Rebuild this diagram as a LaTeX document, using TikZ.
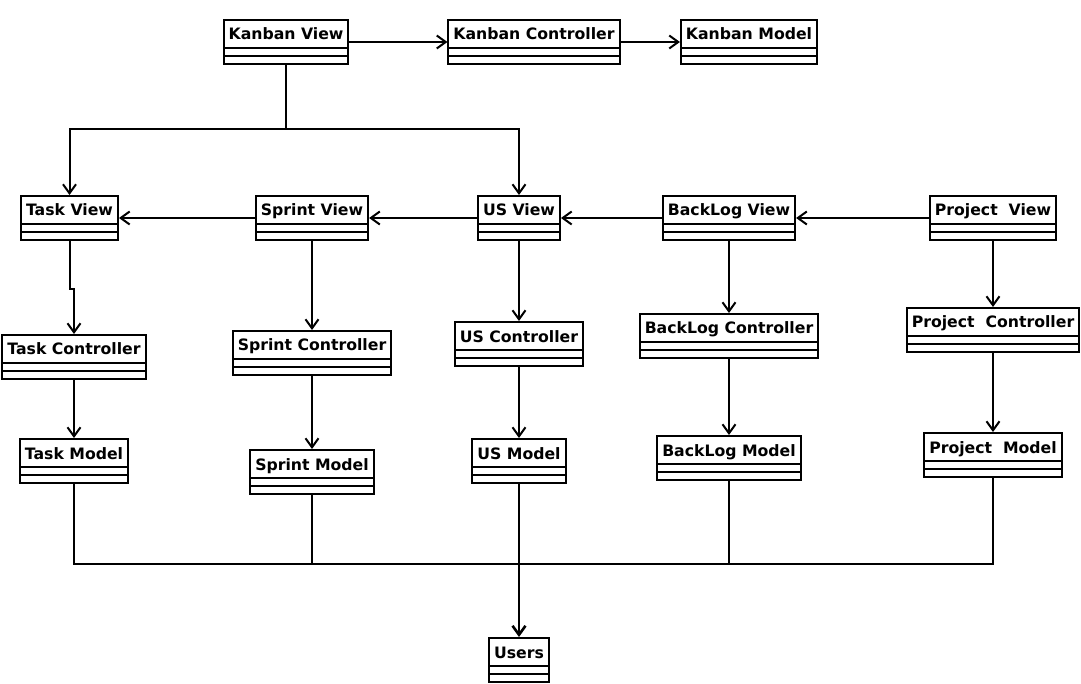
\documentclass[tikz,border=0pt]{standalone}
\usepackage{fontspec}
\setmainfont{DejaVu Sans}
\usetikzlibrary{positioning, arrows.meta}

\begin{document}
\begin{tikzpicture}[
  x=1pt, y=-1pt,
  font=\fontsize{15.7}{18}\selectfont\bfseries,
  cls/.style={draw, line width=2pt, anchor=north, fill=white,
    inner xsep=5pt, inner ysep=3pt, text height=17pt, text depth=21pt,
    path picture={
      \draw[line width=2pt] ([yshift=8pt]path picture bounding box.south west) -- ([yshift=8pt]path picture bounding box.south east)
        ([yshift=16pt]path picture bounding box.south west) -- ([yshift=16pt]path picture bounding box.south east);
    }},
  link/.style={line width=2pt},
  flow/.style={link, -{Straight Barb[length=9pt, width=13pt]}}
]
\useasboundingbox (0,0) rectangle (1081,684);
% kanban row
\node[cls] (kv) at (286,19) {Kanban View};
\node[cls] (kc) at (534,19) {Kanban Controller};
\node[cls] (km) at (749,19) {Kanban Model};
% views
\node[cls] (tv) at (69.5,195) {Task View};
\node[cls] (sv) at (312,195) {Sprint View};
\node[cls] (usv) at (519,195) {US View};
\node[cls] (blv) at (729,195) {BackLog View};
\node[cls] (pv) at (993,195) {Project~~View};
% controllers
\node[cls] (tc) at (74,334) {Task Controller};
\node[cls] (sc) at (312,330) {Sprint Controller};
\node[cls] (usc) at (519,321) {US Controller};
\node[cls] (blc) at (729,313) {BackLog Controller};
\node[cls] (pc) at (993,307) {Project~~Controller};
% models
\node[cls] (tm) at (74,438) {Task Model};
\node[cls] (sm) at (312,449) {Sprint Model};
\node[cls] (usm) at (519,438) {US Model};
\node[cls] (blm) at (729,435) {BackLog Model};
\node[cls] (pm) at (993,432) {Project~~Model};
\node[cls] (users) at (519,637) {Users};
\coordinate (split) at (286,129);
\coordinate (hub) at (519,564);
\draw[flow] (kv.east) -- (kc.west);
\draw[flow] (kc.east) -- (km.west);
\draw[link] (kv.south) -- (split);
\draw[flow] (split) -| (tv.north);
\draw[flow] (split) -| (usv.north);
\draw[flow] (pv.west) -- (blv.east);
\draw[flow] (blv.west) -- (usv.east);
\draw[flow] (usv.west) -- (sv.east);
\draw[flow] (sv.west) -- (tv.east);
\draw[flow] (tv.south) -- ++(0,48) -| (tc.north);
\draw[flow] (sv.south) -- (sc.north);
\draw[flow] (usv.south) -- (usc.north);
\draw[flow] (blv.south) -- (blc.north);
\draw[flow] (pv.south) -- (pc.north);
\draw[flow] (tc.south) -- (tm.north);
\draw[flow] (sc.south) -- (sm.north);
\draw[flow] (usc.south) -- (usm.north);
\draw[flow] (blc.south) -- (blm.north);
\draw[flow] (pc.south) -- (pm.north);
\draw[link] (tm.south) |- (hub);
\draw[link] (sm.south) |- (hub);
\draw[link] (usm.south) -- (hub);
\draw[link] (blm.south) |- (hub);
\draw[link] (pm.south) |- (hub);
\draw[flow, line width=2.6pt] (hub) -- (users.north);
\end{tikzpicture}
\end{document}
